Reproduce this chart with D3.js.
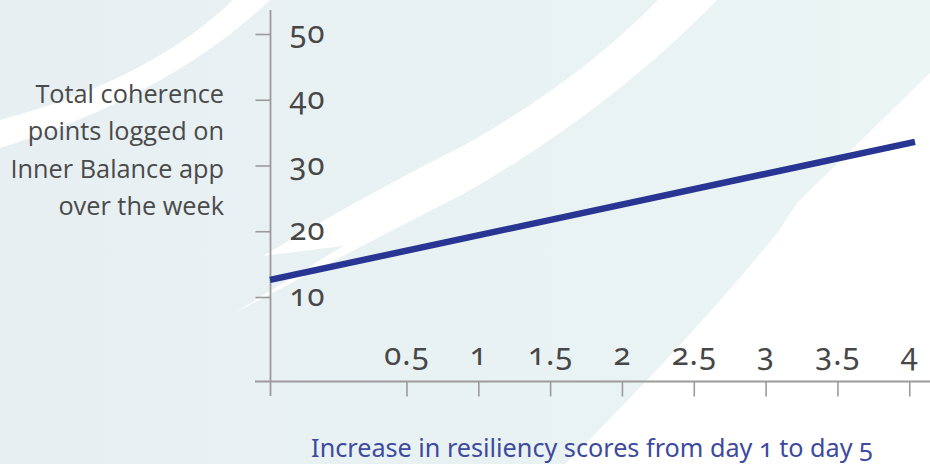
<!DOCTYPE html>
<html>
<head>
<meta charset="utf-8">
<script src="https://cdn.jsdelivr.net/npm/d3@7"></script>
<style>
  html, body { margin: 0; padding: 0; background: #fff; }
  svg { display: block; }
  .num { font-family: "Noto Sans", "Open Sans", sans-serif; font-variant-numeric: oldstyle-nums; font-feature-settings: "onum" 1; }
</style>
</head>
<body>
<svg id="chart" width="930" height="464"></svg>
<script>
// ---- data ----
const yTickValues = [10, 20, 30, 40, 50];
const xTickValues = [0.5, 1, 1.5, 2, 2.5, 3, 3.5, 4];
const xTickLabels = ["0.5", "1", "1.5", "2", "2.5", "3", "3.5", "4"];
const trendResiliency = [-0.45, 4.04];   // x values of trend line ends
const trendCoherence = [12.6, 33.6];     // y values of trend line ends
const yTitleLines = ["Total coherence", "points logged on", "Inner Balance app", "over the week"];
const xTitle = "Increase in resiliency scores from day 1 to day 5";

// ---- layout ----
const W = 930, H = 464;
const svg = d3.select("#chart");

// background
const defs = svg.append("defs");
const grad = defs.append("linearGradient").attr("id", "bg").attr("x1", 0).attr("x2", 1).attr("y1", 0).attr("y2", 0);
grad.append("stop").attr("offset", "0%").attr("stop-color", "#e7eff2");
grad.append("stop").attr("offset", "100%").attr("stop-color", "#ebf5f4");
svg.append("rect").attr("width", W).attr("height", H).attr("fill", "url(#bg)");

const bg = svg.append("g").attr("fill", "#ffffff");
bg.append("path").attr("d", "M0,120 Q150,80 233,0 L270,0 Q170,95 0,148 Z");
bg.append("path").attr("d", "M233,314 L343,246 L263,256 Q370,192 465,145 Q580,80 658,0 L717,0 Q610,110 465,193 Q330,262 233,314 Z");
bg.append("path").attr("d", "M565,464 Q692,338 778,232 L797,203 L930,73 L930,464 Z");

// scales
const x = d3.scaleLinear().domain([-0.45, 4.04]).range([270, 915]);
const y = d3.scaleLinear().domain([0, 50]).range([362.75, 34]);

const axisColor = "#9b9b9b";
const textColor = "#474747";

// y axis
const yAxis = svg.append("g").attr("transform", "translate(270.5,0)")
  .call(d3.axisLeft(y).tickValues(yTickValues).tickSize(15).tickSizeOuter(0));
yAxis.select(".domain").remove();
yAxis.selectAll(".tick line").attr("stroke", axisColor).attr("stroke-width", 1.6);
yAxis.selectAll(".tick text")
  .attr("class", "num")
  .attr("x", 19).attr("dy", null).attr("y", 8.5)
  .attr("text-anchor", "start")
  .attr("font-size", 31).attr("letter-spacing", 1)
  .attr("fill", textColor);
yAxis.append("line").attr("x1", 0).attr("x2", 0).attr("y1", 10).attr("y2", 396)
  .attr("stroke", axisColor).attr("stroke-width", 1.8);

// x axis
const xAxis = svg.append("g").attr("transform", "translate(0,381.5)")
  .call(d3.axisBottom(x).tickValues(xTickValues).tickFormat((d, i) => xTickLabels[i]).tickSize(15).tickSizeOuter(0));
xAxis.select(".domain").remove();
xAxis.selectAll(".tick line").attr("stroke", axisColor).attr("stroke-width", 1.6);
xAxis.selectAll(".tick text")
  .attr("class", "num")
  .attr("y", -17).attr("dy", null)
  .attr("font-size", 31).attr("letter-spacing", 1)
  .attr("fill", textColor);
xAxis.append("line").attr("x1", 255).attr("x2", 930).attr("y1", 0).attr("y2", 0)
  .attr("stroke", axisColor).attr("stroke-width", 1.8);

// trend line
const pts = trendResiliency.map((v, i) => [v, trendCoherence[i]]);
svg.append("path")
  .datum(pts)
  .attr("fill", "none")
  .attr("stroke", "#283593")
  .attr("stroke-width", 6.5)
  .attr("d", d3.line().x(d => x(d[0])).y(d => y(d[1])));

// y title
const yt = svg.append("text")
  .attr("font-family", "'Open Sans', 'Noto Sans', sans-serif")
  .attr("font-size", 25.3).attr("fill", "#4a4a4a").attr("text-anchor", "end");
yTitleLines.forEach((t, i) => {
  yt.append("tspan").attr("x", 224).attr("y", 103 + i * 37.3).text(t);
});

// x title
svg.append("text")
  .attr("class", "num")
  .attr("x", 592).attr("y", 457)
  .attr("text-anchor", "middle")
  .attr("font-size", 25.2).attr("fill", "#3d4a9e")
  .text(xTitle);
</script>
</body>
</html>
